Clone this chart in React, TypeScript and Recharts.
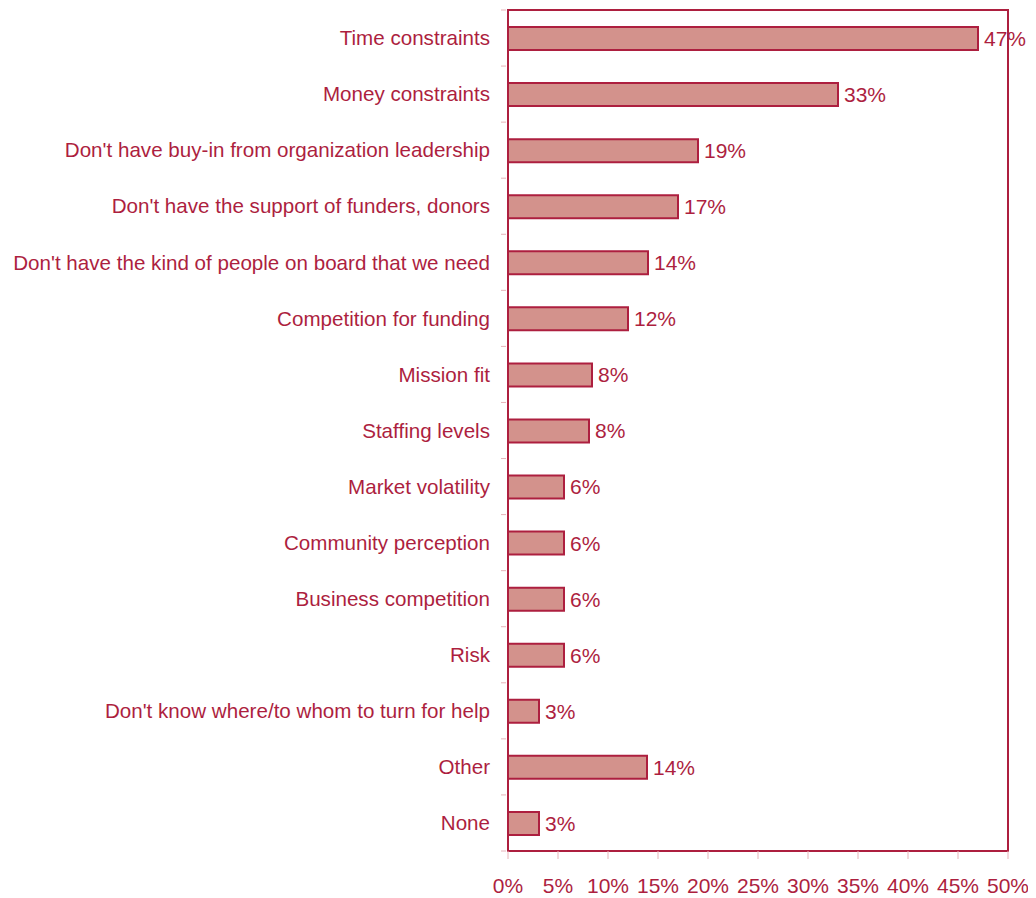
import { BarChart, Bar, XAxis, YAxis, LabelList, ReferenceArea } from 'recharts'

const categories = [
  'Time constraints',
  'Money constraints',
  "Don't have buy-in from organization leadership",
  "Don't have the support of funders, donors",
  "Don't have the kind of people on board that we need",
  'Competition for funding',
  'Mission fit',
  'Staffing levels',
  'Market volatility',
  'Community perception',
  'Business competition',
  'Risk',
  "Don't know where/to whom to turn for help",
  'Other',
  'None',
]

const shares = [47, 33, 19, 17, 14, 12, 8.4, 8.1, 5.6, 5.6, 5.6, 5.6, 3.1, 13.9, 3.1]

const shareLabels = ['47%', '33%', '19%', '17%', '14%', '12%', '8%', '8%', '6%', '6%', '6%', '6%', '3%', '14%', '3%']

const xTicks = [0, 5, 10, 15, 20, 25, 30, 35, 40, 45, 50]

const data = categories.map((name, i) => ({ name, value: shares[i], label: shareLabels[i] }))

const RED = '#ad1f3f'
const FILL = '#d3928c'
const TICK = '#e6b3b9'
const FONT = '"Liberation Sans", Arial, sans-serif'

const TOP = 2
const PLOT_H = 841
const BAND = PLOT_H / categories.length

function CategoryTick(props: any) {
  const { x, y, payload, index } = props
  const axisX = x + 8
  return (
    <g>
      <line x1={axisX - 5} x2={axisX} y1={y - BAND / 2} y2={y - BAND / 2} stroke={TICK} strokeWidth={1} />
      {index === categories.length - 1 && (
        <line x1={axisX - 5} x2={axisX} y1={y + BAND / 2} y2={y + BAND / 2} stroke={TICK} strokeWidth={1} />
      )}
      <text x={axisX - 16} y={y} dy="0.35em" textAnchor="end" fill={RED} fontSize={20.6} fontFamily={FONT}>
        {payload.value}
      </text>
    </g>
  )
}

export default function App() {
  return (
    <BarChart
      width={1028}
      height={890}
      data={data}
      layout="vertical"
      margin={{ top: TOP, right: 28, left: 0, bottom: 0 }}
    >
      <XAxis
        type="number"
        domain={[0, 50]}
        ticks={xTicks}
        tickFormatter={(v) => `${v}%`}
        axisLine={{ stroke: RED, strokeWidth: 2 }}
        tickLine={{ stroke: TICK }}
        tickSize={8}
        tickMargin={19}
        height={47}
        interval={0}
        tick={{ fill: RED, fontSize: 21, fontFamily: FONT }}
      />
      <YAxis
        type="category"
        dataKey="name"
        width={500}
        axisLine={{ stroke: RED, strokeWidth: 2 }}
        tickLine={false}
        tickSize={8}
        interval={0}
        tick={<CategoryTick />}
      />
      <ReferenceArea x1={0} x2={50} fill="none" stroke={RED} strokeWidth={2} ifOverflow="visible" />
      <Bar dataKey="value" fill={FILL} stroke={RED} strokeWidth={2} barSize={23} isAnimationActive={false}>
        <LabelList dataKey="label" position="right" offset={6} fill={RED} fontSize={21} fontFamily={FONT} />
      </Bar>
    </BarChart>
  )
}
